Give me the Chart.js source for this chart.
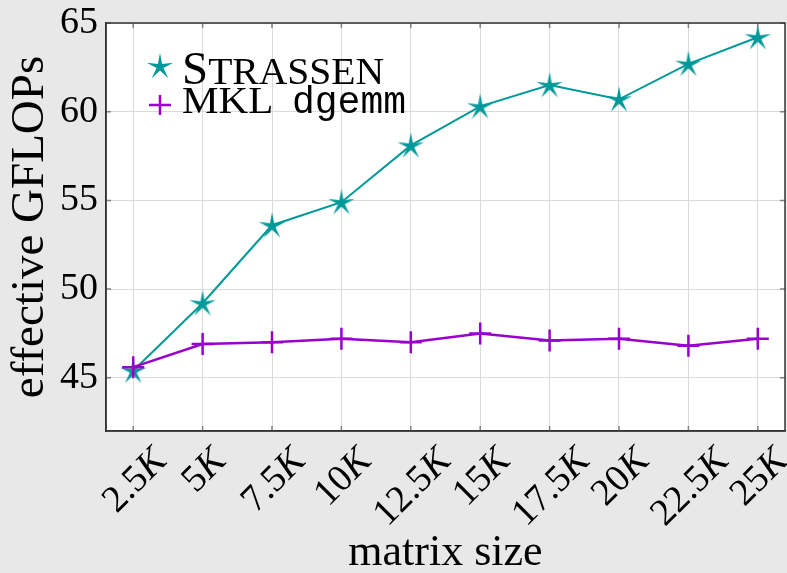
<!DOCTYPE html>
<html>
<head>
<meta charset="utf-8">
<title>Strassen vs MKL dgemm</title>
<script src="https://cdn.jsdelivr.net/npm/chart.js@4.4.1/dist/chart.umd.min.js"></script>
<style>
  html, body { margin: 0; padding: 0; background: #e8e8e8; }
  #canvas { display: block; }
</style>
</head>
<body>
<canvas id="canvas" width="787" height="573"></canvas>
<script>
const sizes = [2.5, 5, 7.5, 10, 12.5, 15, 17.5, 20, 22.5, 25];
const sizeLabels = ["2.5", "5", "7.5", "10", "12.5", "15", "17.5", "20", "22.5", "25"];
const strassen = [45.4, 49.2, 53.6, 54.9, 58.1, 60.3, 61.5, 60.7, 62.7, 64.2];
const mkl = [45.6, 46.9, 47.0, 47.2, 47.0, 47.5, 47.1, 47.2, 46.8, 47.2];
const yTicks = [45, 50, 55, 60, 65];

const teal = "rgb(0, 153, 153)";
const violet = "rgb(153, 0, 204)";
const serif = "'Liberation Serif', 'DejaVu Serif', serif";
const mono = "'Liberation Mono', 'DejaVu Sans Mono', monospace";

const canvas = document.getElementById("canvas");

// thin 5-point star, like the pgfplots marker
function starImage(color, R, r) {
  const c = document.createElement("canvas");
  const s = Math.ceil(R * 2 + 4);
  c.width = s;
  c.height = s;
  const g = c.getContext("2d");
  g.translate(s / 2, s / 2 + 1);
  g.beginPath();
  for (let i = 0; i < 10; i++) {
    const rad = i % 2 ? r : R;
    const a = -Math.PI / 2 + i * Math.PI / 5;
    g.lineTo(rad * Math.cos(a), rad * Math.sin(a));
  }
  g.closePath();
  g.fillStyle = color;
  g.fill();
  return c;
}
const star = starImage(teal, 14, 3.6);

// no extra room for tick labels: the layout padding alone places the plot box
function noPad(s) {
  s.paddingTop = 0;
  s.paddingBottom = 0;
  s.paddingLeft = 0;
  s.paddingRight = 0;
}

const framePlugin = {
  id: "frame",
  beforeDraw(chart) {
    const { ctx, chartArea: a } = chart;
    ctx.save();
    ctx.fillStyle = "#fff";
    ctx.fillRect(a.left, a.top, a.right - a.left, a.bottom - a.top);
    ctx.restore();
  },
  afterDraw(chart) {
    const { ctx, chartArea: a, scales } = chart;
    ctx.save();
    ctx.strokeStyle = "#808080";
    ctx.lineWidth = 1.5;
    ctx.beginPath();
    scales.x.ticks.forEach(t => {
      const px = scales.x.getPixelForValue(t.value);
      ctx.moveTo(px, a.bottom); ctx.lineTo(px, a.bottom - 5);
      ctx.moveTo(px, a.top); ctx.lineTo(px, a.top + 5);
    });
    scales.y.ticks.forEach(t => {
      const py = scales.y.getPixelForValue(t.value);
      ctx.moveTo(a.left, py); ctx.lineTo(a.left + 5, py);
      ctx.moveTo(a.right, py); ctx.lineTo(a.right - 5, py);
    });
    ctx.stroke();
    ctx.strokeStyle = "#333";
    ctx.lineWidth = 1.5;
    ctx.strokeRect(a.left, a.top, a.right - a.left, a.bottom - a.top);
    ctx.restore();
  }
};

// rotated x tick labels with an italic K
const xLabelPlugin = {
  id: "xLabels",
  afterDraw(chart) {
    const { ctx, chartArea, scales: { x } } = chart;
    const num = "38px " + serif;
    const kf = "italic 38px " + serif;
    const h = 26;
    ctx.save();
    ctx.fillStyle = "#000";
    ctx.textBaseline = "alphabetic";
    sizes.forEach((v, i) => {
      ctx.font = num;
      const w1 = ctx.measureText(sizeLabels[i]).width;
      ctx.font = kf;
      const w2 = ctx.measureText("K").width;
      const w = w1 + w2;
      const bb = (w + h) * Math.SQRT1_2;
      const cx = x.getPixelForValue(v);
      const cy = chartArea.bottom + 13 + bb / 2;
      ctx.save();
      ctx.translate(cx, cy);
      ctx.rotate(-Math.PI / 4);
      ctx.font = num;
      ctx.fillText(sizeLabels[i], -w / 2, h / 2);
      ctx.font = kf;
      ctx.fillText("K", -w / 2 + w1, h / 2);
      ctx.restore();
    });
    ctx.restore();
  }
};

const legendPlugin = {
  id: "legendInside",
  afterDraw(chart) {
    const { ctx, chartArea: a } = chart;
    const mx = a.left + 54;
    const tx = a.left + 76;
    ctx.save();
    ctx.fillStyle = "#000";
    ctx.textBaseline = "alphabetic";

    ctx.drawImage(star, mx - star.width / 2, a.top + 43 - star.height / 2);
    ctx.font = "47px " + serif;
    ctx.fillText("S", tx, a.top + 61);
    const sw = ctx.measureText("S").width;
    ctx.font = "37px " + serif;
    ctx.save();
    ctx.translate(tx + sw, a.top + 61);
    ctx.scale(1.07, 1);
    ctx.fillText("TRASSEN", 0, 0);
    ctx.restore();

    ctx.strokeStyle = violet;
    ctx.lineWidth = 2.5;
    ctx.beginPath();
    ctx.moveTo(mx - 11, a.top + 82); ctx.lineTo(mx + 11, a.top + 82);
    ctx.moveTo(mx, a.top + 72); ctx.lineTo(mx, a.top + 92);
    ctx.stroke();
    ctx.font = "38px " + serif;
    ctx.save();
    ctx.translate(tx, a.top + 90);
    ctx.scale(1.08, 1);
    ctx.fillText("MKL", 0, 0);
    ctx.restore();
    ctx.font = "38px " + mono;
    ctx.fillText("dgemm", a.left + 186, a.top + 90);
    ctx.restore();
  }
};

new Chart(canvas, {
  type: "line",
  data: {
    datasets: [
      {
        label: "Strassen",
        data: sizes.map((s, i) => ({ x: s, y: strassen[i] })),
        borderColor: teal,
        backgroundColor: teal,
        borderWidth: 2,
        pointStyle: star,
        order: 1
      },
      {
        label: "MKL dgemm",
        data: sizes.map((s, i) => ({ x: s, y: mkl[i] })),
        borderColor: violet,
        backgroundColor: violet,
        borderWidth: 2.5,
        pointStyle: "cross",
        pointRadius: 11,
        pointBorderWidth: 2.5,
        order: 0
      }
    ]
  },
  options: {
    responsive: false,
    animation: false,
    events: [],
    layout: { autoPadding: false, padding: { top: 23, right: 2, left: 0, bottom: 0 } },
    plugins: {
      legend: { display: false },
      tooltip: { enabled: false }
    },
    scales: {
      x: {
        type: "linear",
        min: 1.52,
        max: 25.98,
        afterBuildTicks: s => { s.ticks = sizes.map(v => ({ value: v })); },
        afterFit: s => { s.height = 142; noPad(s); },
        ticks: { display: false },
        grid: { color: "#dadada", lineWidth: 1, drawTicks: false },
        border: { color: "#333", width: 1.5 },
        title: {
          display: true,
          text: "matrix size",
          color: "#000",
          font: { family: serif, size: 44, lineHeight: 0.9 },
          padding: { top: 0, bottom: 0 }
        }
      },
      y: {
        type: "linear",
        min: 42,
        max: 65,
        afterBuildTicks: s => { s.ticks = yTicks.map(v => ({ value: v })); },
        afterFit: s => { s.width = 106; noPad(s); },
        ticks: { color: "#000", padding: 8, font: { family: serif, size: 38 } },
        grid: { color: "#dadada", lineWidth: 1, drawTicks: false },
        border: { color: "#333", width: 1.5 },
        title: {
          display: true,
          text: "effective GFLOPs",
          color: "#000",
          font: { family: serif, size: 47, lineHeight: 1.2 },
          padding: { top: 2, bottom: 0 }
        }
      }
    }
  },
  plugins: [framePlugin, xLabelPlugin, legendPlugin]
});
</script>
</body>
</html>
